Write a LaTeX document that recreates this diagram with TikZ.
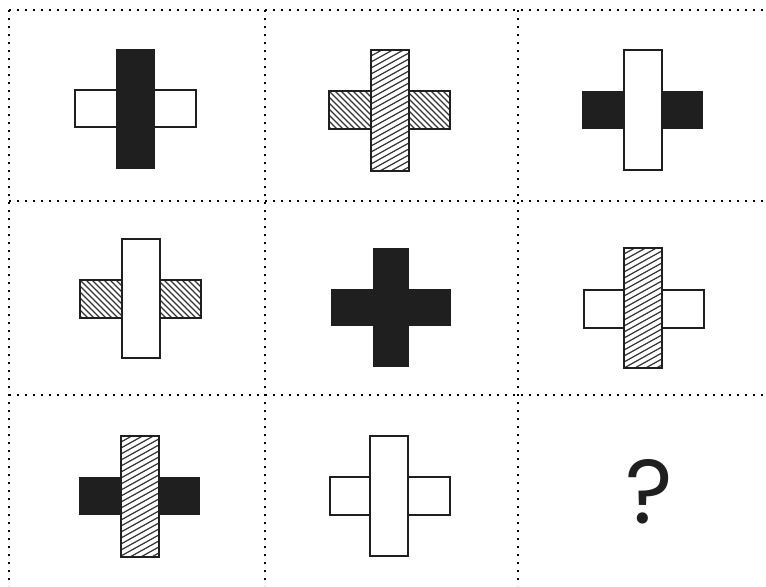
\documentclass[tikz,border=0pt]{standalone}
\usepackage{fontspec}
\setmainfont{Liberation Sans}
\newfontfamily\qfont{Poppins}
\begin{document}
\begin{tikzpicture}[x=0.75pt,y=-0.75pt,
  gridline/.style={line width=2pt, dash pattern=on 1.8pt off 4.2pt, black},
  whitebar/.style={draw=black!88, fill=white, line width=1.8pt},
  blackbar/.style={draw=black!88, fill=black!88, line width=0.8pt},
  hatchframe/.style={draw=black!88, line width=1.8pt},
  hatch/.style={draw=black!80, line width=0.9pt}]
\useasboundingbox[fill=white] (0,0) rectangle (766,586);
\newcommand\hatchV[4]{%
  \fill[white] (#1,#2) rectangle (#3,#4);
  \begin{scope}
  \clip (#1,#2) rectangle (#3,#4);
  \foreach \i in {0,6,...,156}{\draw[hatch] (#1,#2+\i) -- ++(45,-25);}
  \end{scope}
  \draw[hatchframe] (#1,#2) rectangle (#3,#4);}
\newcommand\hatchH[4]{%
  \fill[white] (#1,#2) rectangle (#3,#4);
  \begin{scope}
  \clip (#1,#2) rectangle (#3,#4);
  \foreach \i in {-48,-42,...,132}{\draw[hatch] (#1+\i,#2) -- ++(42,42);}
  \end{scope}
  \draw[hatchframe] (#1,#2) rectangle (#3,#4);}
% grid
\draw[gridline] (9,10) -- (766,10);
\draw[gridline] (9,201) -- (766,201);
\draw[gridline] (9,395) -- (766,395);
\draw[gridline] (9,10) -- (9,586);
\draw[gridline] (265,10) -- (265,586);
\draw[gridline] (518,10) -- (518,586);
% cell 1
\draw[whitebar] (75,90) rectangle (196,127);
\draw[blackbar] (117,50) rectangle (154,168);
% cell 2
\hatchH{329}{91}{450}{129}
\hatchV{371}{50}{409}{171}
% cell 3
\draw[blackbar] (583,92) rectangle (702,128);
\draw[whitebar] (624,50) rectangle (662,170);
% cell 4
\hatchH{80}{280}{201}{318}
\draw[whitebar] (122,239) rectangle (160,358);
% cell 5
\fill[black!88] (331,289) rectangle (451,326);
\fill[black!88] (373,248) rectangle (409,367);
% cell 6
\draw[whitebar] (584,290) rectangle (704,328);
\hatchV{624}{248}{662}{368}
% cell 7
\draw[blackbar] (80,478) rectangle (199,514);
\hatchV{121}{436}{159}{557}
% cell 8
\draw[whitebar] (330,477) rectangle (450,515);
\draw[whitebar] (370,436) rectangle (408,556);
% cell 9
\node[font=\qfont\fontsize{68}{72}\selectfont, text=black!88, inner sep=0pt] (q) at (649,492) {?};
\end{tikzpicture}
\end{document}
